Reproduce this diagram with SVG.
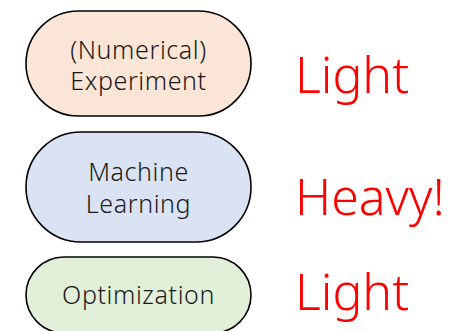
<svg xmlns="http://www.w3.org/2000/svg" width="449" height="331" viewBox="0 0 449 331">
<style>
.node{stroke:#000;stroke-width:1.6}
.lbl{font-family:"Noto Sans","DejaVu Sans",sans-serif;font-size:25px;font-weight:300;fill:#1a1a1a;text-anchor:middle;letter-spacing:0.6px}
.note{font-family:"Noto Sans","DejaVu Sans",sans-serif;font-size:50px;font-weight:300;fill:#FF0000}
</style>
<rect width="449" height="331" fill="#fff"/>
<g id="connectors"></g>
<g id="experiment">
<rect class="node" x="26" y="11" width="225" height="105" rx="52.5" fill="#FBE5D6"/>
<text class="lbl" x="138.5" y="59">(Numerical)</text>
<text class="lbl" x="138.5" y="90">Experiment</text>
</g>
<g id="ml">
<rect class="node" x="26" y="132" width="225" height="110" rx="55" fill="#DAE3F3"/>
<text class="lbl" x="138.5" y="181">Machine</text>
<text class="lbl" x="138.5" y="213">Learning</text>
</g>
<g id="optimization">
<rect class="node" x="26" y="257" width="225" height="76" rx="38" fill="#E2F0D9"/>
<text class="lbl" x="138.5" y="304">Optimization</text>
</g>
<g id="labels">
<text class="note" x="295" y="93">Light</text>
<text class="note" x="295" y="215">Heavy!</text>
<text class="note" x="295" y="310">Light</text>
</g>
</svg>
